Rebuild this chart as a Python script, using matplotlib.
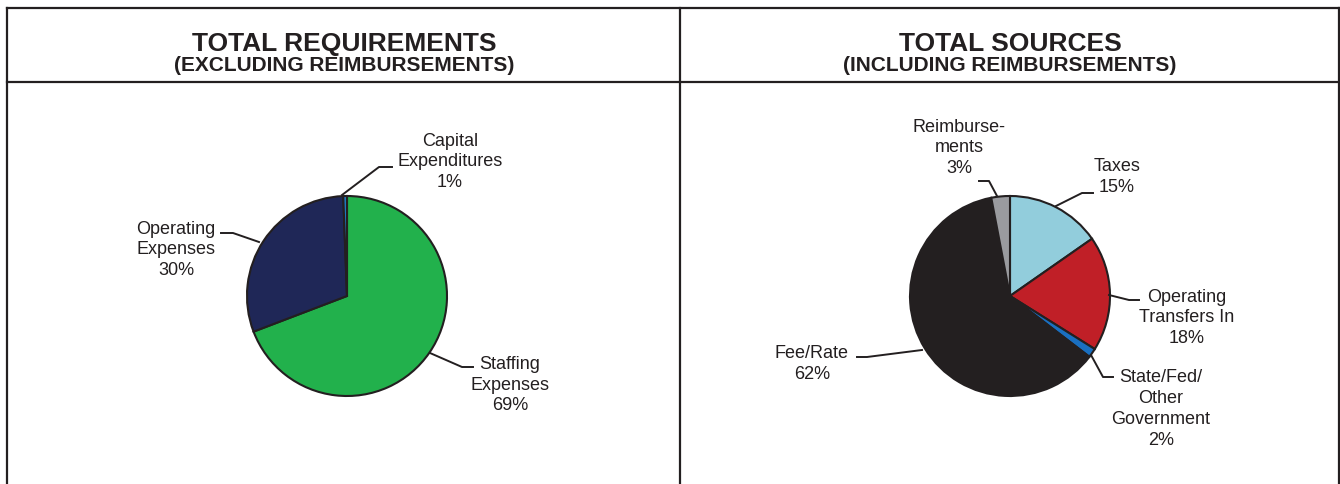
import matplotlib.pyplot as plt
from matplotlib.lines import Line2D

plt.rcParams['font.family'] = ['Liberation Sans', 'DejaVu Sans']

# Left chart: total requirements (excluding reimbursements)
req_labels = ['Staffing\nExpenses', 'Operating\nExpenses', 'Capital\nExpenditures']
req_shares = [69.2, 30.2, 0.6]
req_pct = ['69%', '30%', '1%']
req_colors = ['#22B14C', '#1F2757', '#1E7BC4']

# Right chart: total sources (including reimbursements)
src_labels = ['Taxes', 'Operating\nTransfers In', 'State/Fed/\nOther\nGovernment',
              'Fee/Rate', 'Reimburse-\nments']
src_shares = [15.3, 18.6, 1.5, 61.6, 3.0]
src_pct = ['15%', '18%', '2%', '62%', '3%']
src_colors = ['#92CDDC', '#C01F27', '#1A6FC0', '#231F20', '#9A9B9F']

W, H = 1340, 484
INK = '#231F20'


def Y(y):
    # pixel row (from top) -> data y
    return H - y


fig = plt.figure(figsize=(W / 100, H / 100), dpi=100)
ax = fig.add_axes([0, 0, 1, 1])

wp = dict(edgecolor=INK, linewidth=1.5)
ax.pie(req_shares, colors=req_colors, startangle=90, counterclock=False,
       center=(347, Y(296)), radius=100, wedgeprops=wp, frame=True)
ax.pie(src_shares, colors=src_colors, startangle=90, counterclock=False,
       center=(1010, Y(296)), radius=100, wedgeprops=wp, frame=True)

ax.set_xlim(0, W)
ax.set_ylim(0, H)
ax.set_aspect('auto')
ax.axis('off')

# panel frame
frame_lines = [
    ([7, 7], [7.5, H]),
    ([680, 680], [7.5, H]),
    ([1339, 1339], [7.5, H]),
    ([7, 1339], [7.5, 7.5]),
    ([7, 1339], [82, 82]),
]
for xs, ys in frame_lines:
    ax.add_line(Line2D(xs, [Y(v) for v in ys], color=INK, lw=1.6,
                       solid_capstyle='projecting'))

# titles
for cx, t1, t2 in [(344, 'TOTAL REQUIREMENTS', '(EXCLUDING REIMBURSEMENTS)'),
                   (1010, 'TOTAL SOURCES', '(INCLUDING REIMBURSEMENTS)')]:
    ax.text(cx, Y(51), t1, ha='center', va='baseline', fontsize=19,
            fontweight='bold', color=INK)
    ax.text(cx, Y(71), t2, ha='center', va='baseline', fontsize=15,
            fontweight='bold', color=INK)

# label positions (block centre) and leader polylines, in pixels
req_layout = [
    ((510, 385), [(430, 353), (462, 367), (473, 367)]),
    ((176, 250), [(259, 242), (233, 233), (221, 233)]),
    ((450, 162), [(342, 195), (379, 167), (392, 167)]),
]
src_layout = [
    ((1117, 177), [(1056, 206), (1082, 193), (1093, 193)]),
    ((1187, 318), [(1109, 295), (1129, 300), (1139, 300)]),
    ((1161, 409), [(1091, 355), (1103, 377), (1113, 377)]),
    ((812, 364), [(922, 350), (867, 357), (857, 357)]),
    ((959, 148), [(997, 196), (989, 181), (979, 181)]),
]

for labels, pcts, layout in [(req_labels, req_pct, req_layout),
                             (src_labels, src_pct, src_layout)]:
    for lab, pct, ((tx, ty), pts) in zip(labels, pcts, layout):
        ax.text(tx, Y(ty), lab + '\n' + pct, ha='center', va='center',
                multialignment='center', fontsize=13, color=INK,
                linespacing=1.3)
        ax.add_line(Line2D([p[0] for p in pts], [Y(p[1]) for p in pts],
                           color=INK, lw=1.4))

fig.savefig('out.png', dpi=100)
